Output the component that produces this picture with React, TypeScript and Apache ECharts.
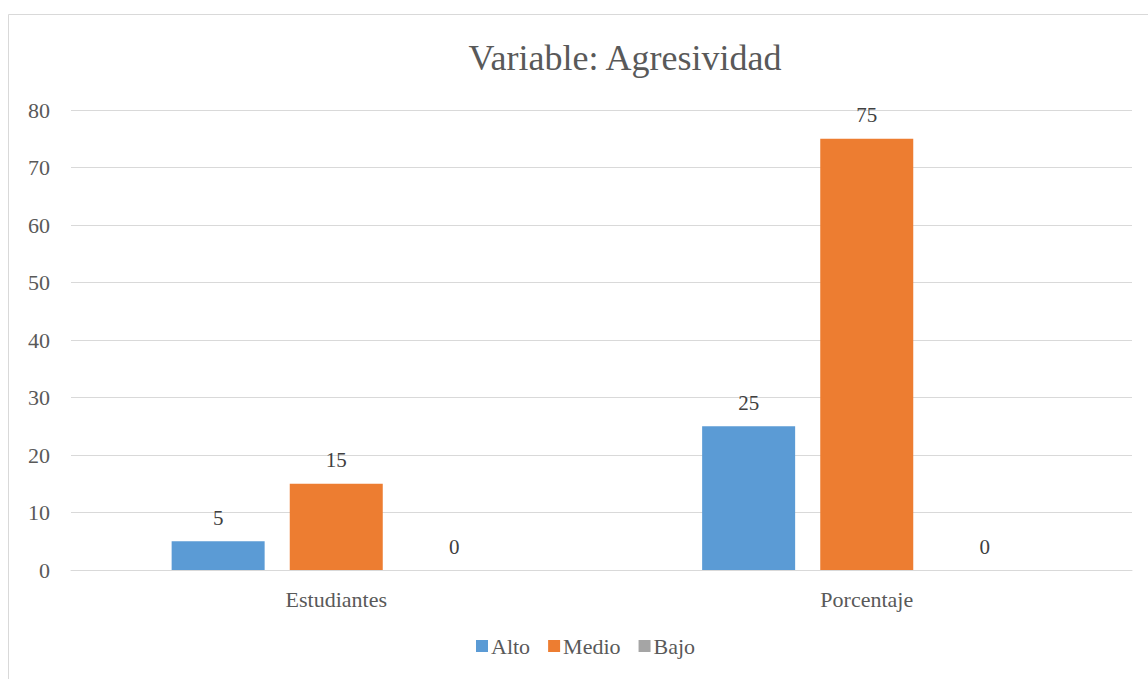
import React, { useEffect, useRef } from "react";
import * as echarts from "echarts";

const categories = ["Estudiantes", "Porcentaje"];
const alto = [5, 25];
const medio = [15, 75];
const bajo = [0, 0];
const seriesNames = ["Alto", "Medio", "Bajo"];
const colors = ["#5B9BD5", "#ED7D31", "#A5A5A5"];

export default function App() {
  const ref = useRef<HTMLDivElement>(null);
  useEffect(() => {
    document.body.style.margin = "0";
    const chart = echarts.init(ref.current!, null, { renderer: "svg" });
    const font = "Liberation Serif, Times New Roman, serif";
    const data = [alto, medio, bajo];
    chart.setOption({
      animation: false,
      textStyle: { fontFamily: font },
      graphic: [
        {
          type: "rect",
          shape: { x: 8.5, y: 14.5, width: 1200, height: 700 },
          style: { fill: "none", stroke: "#D9D9D9", lineWidth: 1 },
          silent: true,
        },
      ],
      title: {
        text: "Variable: Agresividad",
        left: 620,
        top: 35,
        textAlign: "center",
        textStyle: { fontFamily: font, fontSize: 36, fontWeight: "normal", color: "#595959" },
      },
      legend: {
        bottom: 17,
        left: 471,
        orient: "horizontal",
        data: seriesNames,
        itemWidth: 12,
        itemHeight: 12,
        itemGap: 18,
        textStyle: { fontFamily: font, fontSize: 22, color: "#595959", padding: [0, 0, 0, -2] },
        icon: "rect",
      },
      grid: { left: 71, right: 16, top: 110, bottom: 109, containLabel: false },
      xAxis: {
        type: "category",
        data: categories,
        axisLine: { lineStyle: { color: "#D9D9D9", width: 1 } },
        axisTick: { show: false },
        axisLabel: { fontFamily: font, fontSize: 22, color: "#595959", margin: 18 },
      },
      yAxis: {
        type: "value",
        min: 0,
        max: 80,
        interval: 10,
        axisLine: { show: false },
        axisTick: { show: false },
        splitLine: { lineStyle: { color: "#D9D9D9", width: 1 } },
        axisLabel: { fontFamily: font, fontSize: 22, color: "#595959", margin: 21 },
      },
      series: seriesNames.map((name, i) => ({
        name,
        type: "bar",
        data: data[i],
        barWidth: 93,
        barGap: "27%",
        itemStyle: { color: colors[i] },
        label: {
          show: true,
          position: "top",
          distance: 13,
          fontFamily: font,
          fontSize: 21,
          color: "#404040",
        },
      })),
    });
    return () => chart.dispose();
  }, []);
  return <div ref={ref} style={{ width: 1148, height: 679 }} />;
}
